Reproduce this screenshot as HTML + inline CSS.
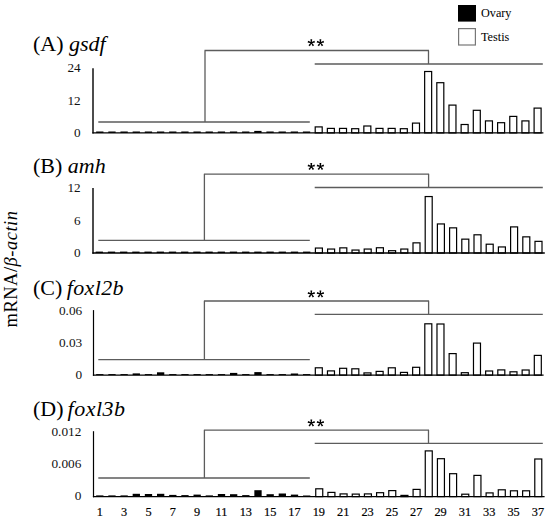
<!DOCTYPE html>
<html><head><meta charset="utf-8"><style>
html,body{margin:0;padding:0;background:#fff;}
body{width:550px;height:522px;overflow:hidden;}
svg{display:block;}
text{font-family:"Liberation Serif",serif;fill:#000;}
.lb{stroke:#000;stroke-width:0.2px;}
.yl{fill:#111;}
</style></head><body>
<svg width="550" height="522" viewBox="0 0 550 522">

<rect x="458" y="5" width="18" height="16.6" fill="#000"/>
<rect x="458.6" y="28.6" width="16.8" height="16.4" fill="#fff" stroke="#777" stroke-width="1.2"/>
<text x="481" y="17.2" font-size="12.2">Ovary</text>
<text x="481" y="41" font-size="12.2">Testis</text>
<text transform="translate(16.6,269) rotate(-90)" text-anchor="middle" font-size="18.5" letter-spacing="0.5">mRNA/<tspan font-style="italic">β-actin</tspan></text>
<text x="33" y="51.2" font-size="22">(A) <tspan font-style="italic" dx="0" letter-spacing="0">gsdf</tspan></text>
<text x="80.6" y="71.8" font-size="13.2" text-anchor="end" class="yl">24</text>
<text x="80.6" y="104.5" font-size="13.2" text-anchor="end" class="yl">12</text>
<text x="80.6" y="136.8" font-size="13.2" text-anchor="end" class="yl">0</text>
<path d="M98.3 122.0H309.8M314.7 64.0H542.8M205.0 122.0V50.5M204.5 50.5H429.0M428.5 50.5V64.0" stroke="#5c5c5c" stroke-width="1.3" fill="none"/>
<path d="M311.75 42.80L312.20 39.20L310.40 39.20L310.85 42.80ZM311.44 43.23L315.00 42.54L314.45 40.83L311.16 42.37ZM310.94 43.06L312.69 46.24L314.14 45.18L311.66 42.54ZM310.94 42.54L308.46 45.18L309.91 46.24L311.66 43.06ZM311.44 42.37L308.15 40.83L307.60 42.54L311.16 43.23Z" fill="#000"/><circle cx="311.3" cy="42.8" r="0.8" fill="#000"/>
<path d="M320.85 42.80L321.30 39.20L319.50 39.20L319.95 42.80ZM320.54 43.23L324.10 42.54L323.55 40.83L320.26 42.37ZM320.04 43.06L321.79 46.24L323.24 45.18L320.76 42.54ZM320.04 42.54L317.56 45.18L319.01 46.24L320.76 43.06ZM320.54 42.37L317.25 40.83L316.70 42.54L320.26 43.23Z" fill="#000"/><circle cx="320.4" cy="42.8" r="0.8" fill="#000"/>
<rect x="96.15" y="131.50" width="7.30" height="1.40" fill="#000"/>
<rect x="108.31" y="131.50" width="7.30" height="1.40" fill="#000"/>
<rect x="120.47" y="131.50" width="7.30" height="1.40" fill="#000"/>
<rect x="132.63" y="131.50" width="7.30" height="1.40" fill="#000"/>
<rect x="144.79" y="131.50" width="7.30" height="1.40" fill="#000"/>
<rect x="156.95" y="131.50" width="7.30" height="1.40" fill="#000"/>
<rect x="169.12" y="131.50" width="7.30" height="1.40" fill="#000"/>
<rect x="181.28" y="131.50" width="7.30" height="1.40" fill="#000"/>
<rect x="193.44" y="131.50" width="7.30" height="1.40" fill="#000"/>
<rect x="205.60" y="131.50" width="7.30" height="1.40" fill="#000"/>
<rect x="217.76" y="131.50" width="7.30" height="1.40" fill="#000"/>
<rect x="229.92" y="131.50" width="7.30" height="1.40" fill="#000"/>
<rect x="242.08" y="131.50" width="7.30" height="1.40" fill="#000"/>
<rect x="254.24" y="130.90" width="7.30" height="2.00" fill="#000"/>
<rect x="266.40" y="131.50" width="7.30" height="1.40" fill="#000"/>
<rect x="278.56" y="131.50" width="7.30" height="1.40" fill="#000"/>
<rect x="290.73" y="131.50" width="7.30" height="1.40" fill="#000"/>
<rect x="302.89" y="131.50" width="7.30" height="1.40" fill="#000"/>
<rect x="315.20" y="126.90" width="7.00" height="6.00" fill="#fff" stroke="#000" stroke-width="1.2"/>
<rect x="327.36" y="128.40" width="7.00" height="4.50" fill="#fff" stroke="#000" stroke-width="1.2"/>
<rect x="339.52" y="128.40" width="7.00" height="4.50" fill="#fff" stroke="#000" stroke-width="1.2"/>
<rect x="351.68" y="128.70" width="7.00" height="4.20" fill="#fff" stroke="#000" stroke-width="1.2"/>
<rect x="363.84" y="126.00" width="7.00" height="6.90" fill="#fff" stroke="#000" stroke-width="1.2"/>
<rect x="376.00" y="128.40" width="7.00" height="4.50" fill="#fff" stroke="#000" stroke-width="1.2"/>
<rect x="388.16" y="128.40" width="7.00" height="4.50" fill="#fff" stroke="#000" stroke-width="1.2"/>
<rect x="400.32" y="128.70" width="7.00" height="4.20" fill="#fff" stroke="#000" stroke-width="1.2"/>
<rect x="412.49" y="123.10" width="7.00" height="9.80" fill="#fff" stroke="#000" stroke-width="1.2"/>
<rect x="424.65" y="71.50" width="7.00" height="61.40" fill="#fff" stroke="#000" stroke-width="1.2"/>
<rect x="436.81" y="82.70" width="7.00" height="50.20" fill="#fff" stroke="#000" stroke-width="1.2"/>
<rect x="448.97" y="105.10" width="7.00" height="27.80" fill="#fff" stroke="#000" stroke-width="1.2"/>
<rect x="461.13" y="124.50" width="7.00" height="8.40" fill="#fff" stroke="#000" stroke-width="1.2"/>
<rect x="473.29" y="110.30" width="7.00" height="22.60" fill="#fff" stroke="#000" stroke-width="1.2"/>
<rect x="485.45" y="120.90" width="7.00" height="12.00" fill="#fff" stroke="#000" stroke-width="1.2"/>
<rect x="497.61" y="122.70" width="7.00" height="10.20" fill="#fff" stroke="#000" stroke-width="1.2"/>
<rect x="509.77" y="116.40" width="7.00" height="16.50" fill="#fff" stroke="#000" stroke-width="1.2"/>
<rect x="521.93" y="120.90" width="7.00" height="12.00" fill="#fff" stroke="#000" stroke-width="1.2"/>
<rect x="534.10" y="108.10" width="7.00" height="24.80" fill="#fff" stroke="#000" stroke-width="1.2"/>
<line x1="93.0" y1="68.2" x2="93.0" y2="133.6" stroke="#111" stroke-width="1.5"/>
<line x1="92.4" y1="132.9" x2="543.4" y2="132.9" stroke="#000" stroke-width="1.4"/>
<text x="33" y="173.0" font-size="22">(B) <tspan font-style="italic" dx="0" letter-spacing="0">amh</tspan></text>
<text x="80.6" y="192.4" font-size="13.2" text-anchor="end" class="yl">12</text>
<text x="80.6" y="224.7" font-size="13.2" text-anchor="end" class="yl">6</text>
<text x="80.6" y="256.7" font-size="13.2" text-anchor="end" class="yl">0</text>
<path d="M98.3 240.3H309.8M314.7 187.5H542.8M204.4 240.3V174.1M203.9 174.1H429.1M428.6 174.1V187.5" stroke="#5c5c5c" stroke-width="1.3" fill="none"/>
<path d="M311.75 166.50L312.20 162.90L310.40 162.90L310.85 166.50ZM311.44 166.93L315.00 166.24L314.45 164.53L311.16 166.07ZM310.94 166.76L312.69 169.94L314.14 168.88L311.66 166.24ZM310.94 166.24L308.46 168.88L309.91 169.94L311.66 166.76ZM311.44 166.07L308.15 164.53L307.60 166.24L311.16 166.93Z" fill="#000"/><circle cx="311.3" cy="166.5" r="0.8" fill="#000"/>
<path d="M320.85 166.50L321.30 162.90L319.50 162.90L319.95 166.50ZM320.54 166.93L324.10 166.24L323.55 164.53L320.26 166.07ZM320.04 166.76L321.79 169.94L323.24 168.88L320.76 166.24ZM320.04 166.24L317.56 168.88L319.01 169.94L320.76 166.76ZM320.54 166.07L317.25 164.53L316.70 166.24L320.26 166.93Z" fill="#000"/><circle cx="320.4" cy="166.5" r="0.8" fill="#000"/>
<rect x="95.65" y="251.60" width="7.30" height="1.40" fill="#000"/>
<rect x="107.85" y="251.60" width="7.30" height="1.40" fill="#000"/>
<rect x="120.05" y="251.60" width="7.30" height="1.40" fill="#000"/>
<rect x="132.25" y="251.60" width="7.30" height="1.40" fill="#000"/>
<rect x="144.45" y="251.60" width="7.30" height="1.40" fill="#000"/>
<rect x="156.65" y="251.60" width="7.30" height="1.40" fill="#000"/>
<rect x="168.85" y="251.60" width="7.30" height="1.40" fill="#000"/>
<rect x="181.05" y="251.60" width="7.30" height="1.40" fill="#000"/>
<rect x="193.25" y="251.60" width="7.30" height="1.40" fill="#000"/>
<rect x="205.45" y="251.60" width="7.30" height="1.40" fill="#000"/>
<rect x="217.65" y="251.60" width="7.30" height="1.40" fill="#000"/>
<rect x="229.85" y="251.60" width="7.30" height="1.40" fill="#000"/>
<rect x="242.05" y="251.60" width="7.30" height="1.40" fill="#000"/>
<rect x="254.25" y="251.60" width="7.30" height="1.40" fill="#000"/>
<rect x="266.45" y="251.60" width="7.30" height="1.40" fill="#000"/>
<rect x="278.65" y="251.60" width="7.30" height="1.40" fill="#000"/>
<rect x="290.85" y="251.60" width="7.30" height="1.40" fill="#000"/>
<rect x="303.05" y="251.60" width="7.30" height="1.40" fill="#000"/>
<rect x="315.40" y="248.05" width="7.00" height="4.95" fill="#fff" stroke="#000" stroke-width="1.2"/>
<rect x="327.60" y="249.05" width="7.00" height="3.95" fill="#fff" stroke="#000" stroke-width="1.2"/>
<rect x="339.80" y="247.85" width="7.00" height="5.15" fill="#fff" stroke="#000" stroke-width="1.2"/>
<rect x="352.00" y="250.05" width="7.00" height="2.95" fill="#fff" stroke="#000" stroke-width="1.2"/>
<rect x="364.20" y="249.05" width="7.00" height="3.95" fill="#fff" stroke="#000" stroke-width="1.2"/>
<rect x="376.40" y="247.75" width="7.00" height="5.25" fill="#fff" stroke="#000" stroke-width="1.2"/>
<rect x="388.60" y="250.70" width="7.00" height="2.30" fill="#fff" stroke="#000" stroke-width="1.2"/>
<rect x="400.80" y="249.05" width="7.00" height="3.95" fill="#fff" stroke="#000" stroke-width="1.2"/>
<rect x="413.00" y="242.85" width="7.00" height="10.15" fill="#fff" stroke="#000" stroke-width="1.2"/>
<rect x="425.20" y="196.55" width="7.00" height="56.45" fill="#fff" stroke="#000" stroke-width="1.2"/>
<rect x="437.40" y="223.95" width="7.00" height="29.05" fill="#fff" stroke="#000" stroke-width="1.2"/>
<rect x="449.60" y="227.85" width="7.00" height="25.15" fill="#fff" stroke="#000" stroke-width="1.2"/>
<rect x="461.80" y="239.15" width="7.00" height="13.85" fill="#fff" stroke="#000" stroke-width="1.2"/>
<rect x="474.00" y="234.80" width="7.00" height="18.20" fill="#fff" stroke="#000" stroke-width="1.2"/>
<rect x="486.20" y="244.20" width="7.00" height="8.80" fill="#fff" stroke="#000" stroke-width="1.2"/>
<rect x="498.40" y="246.95" width="7.00" height="6.05" fill="#fff" stroke="#000" stroke-width="1.2"/>
<rect x="510.60" y="226.90" width="7.00" height="26.10" fill="#fff" stroke="#000" stroke-width="1.2"/>
<rect x="522.80" y="236.85" width="7.00" height="16.15" fill="#fff" stroke="#000" stroke-width="1.2"/>
<rect x="535.00" y="241.35" width="7.00" height="11.65" fill="#fff" stroke="#000" stroke-width="1.2"/>
<line x1="93.0" y1="188.1" x2="93.0" y2="253.7" stroke="#111" stroke-width="1.5"/>
<line x1="92.4" y1="253.0" x2="544.8" y2="253.0" stroke="#000" stroke-width="1.4"/>
<text x="33" y="295.2" font-size="22">(C) <tspan font-style="italic" dx="-1.2" letter-spacing="0.4">foxl2b</tspan></text>
<text x="82.2" y="314.7" font-size="13.3" text-anchor="end" class="yl">0.06</text>
<text x="82.2" y="346.8" font-size="13.3" text-anchor="end" class="yl">0.03</text>
<text x="82.2" y="378.7" font-size="13.3" text-anchor="end" class="yl">0</text>
<path d="M98.3 359.6H309.8M314.7 314.4H542.8M204.4 359.6V301.0M203.9 301.0H429.1M428.6 301.0V314.4" stroke="#5c5c5c" stroke-width="1.3" fill="none"/>
<path d="M311.75 294.00L312.20 290.40L310.40 290.40L310.85 294.00ZM311.44 294.43L315.00 293.74L314.45 292.03L311.16 293.57ZM310.94 294.26L312.69 297.44L314.14 296.38L311.66 293.74ZM310.94 293.74L308.46 296.38L309.91 297.44L311.66 294.26ZM311.44 293.57L308.15 292.03L307.60 293.74L311.16 294.43Z" fill="#000"/><circle cx="311.3" cy="294.0" r="0.8" fill="#000"/>
<path d="M320.85 294.00L321.30 290.40L319.50 290.40L319.95 294.00ZM320.54 294.43L324.10 293.74L323.55 292.03L320.26 293.57ZM320.04 294.26L321.79 297.44L323.24 296.38L320.76 293.74ZM320.04 293.74L317.56 296.38L319.01 297.44L320.76 294.26ZM320.54 293.57L317.25 292.03L316.70 293.74L320.26 294.43Z" fill="#000"/><circle cx="320.4" cy="294.0" r="0.8" fill="#000"/>
<rect x="96.15" y="374.10" width="7.30" height="1.00" fill="#000"/>
<rect x="108.32" y="374.10" width="7.30" height="1.00" fill="#000"/>
<rect x="120.48" y="374.10" width="7.30" height="1.00" fill="#000"/>
<rect x="132.65" y="373.40" width="7.30" height="1.70" fill="#000"/>
<rect x="144.82" y="374.10" width="7.30" height="1.00" fill="#000"/>
<rect x="156.98" y="372.30" width="7.30" height="2.80" fill="#000"/>
<rect x="169.15" y="374.10" width="7.30" height="1.00" fill="#000"/>
<rect x="181.32" y="374.10" width="7.30" height="1.00" fill="#000"/>
<rect x="193.49" y="374.10" width="7.30" height="1.00" fill="#000"/>
<rect x="205.65" y="374.10" width="7.30" height="1.00" fill="#000"/>
<rect x="217.82" y="374.10" width="7.30" height="1.00" fill="#000"/>
<rect x="229.99" y="372.90" width="7.30" height="2.20" fill="#000"/>
<rect x="242.15" y="374.10" width="7.30" height="1.00" fill="#000"/>
<rect x="254.32" y="372.10" width="7.30" height="3.00" fill="#000"/>
<rect x="266.49" y="374.10" width="7.30" height="1.00" fill="#000"/>
<rect x="278.66" y="374.10" width="7.30" height="1.00" fill="#000"/>
<rect x="290.82" y="373.50" width="7.30" height="1.60" fill="#000"/>
<rect x="302.99" y="374.10" width="7.30" height="1.00" fill="#000"/>
<rect x="315.31" y="367.80" width="7.00" height="7.30" fill="#fff" stroke="#000" stroke-width="1.2"/>
<rect x="327.47" y="370.90" width="7.00" height="4.20" fill="#fff" stroke="#000" stroke-width="1.2"/>
<rect x="339.64" y="368.30" width="7.00" height="6.80" fill="#fff" stroke="#000" stroke-width="1.2"/>
<rect x="351.81" y="368.80" width="7.00" height="6.30" fill="#fff" stroke="#000" stroke-width="1.2"/>
<rect x="363.97" y="372.90" width="7.00" height="2.20" fill="#fff" stroke="#000" stroke-width="1.2"/>
<rect x="376.14" y="371.40" width="7.00" height="3.70" fill="#fff" stroke="#000" stroke-width="1.2"/>
<rect x="388.31" y="367.80" width="7.00" height="7.30" fill="#fff" stroke="#000" stroke-width="1.2"/>
<rect x="400.48" y="372.40" width="7.00" height="2.70" fill="#fff" stroke="#000" stroke-width="1.2"/>
<rect x="412.64" y="367.30" width="7.00" height="7.80" fill="#fff" stroke="#000" stroke-width="1.2"/>
<rect x="424.81" y="323.80" width="7.00" height="51.30" fill="#fff" stroke="#000" stroke-width="1.2"/>
<rect x="436.98" y="324.00" width="7.00" height="51.10" fill="#fff" stroke="#000" stroke-width="1.2"/>
<rect x="449.14" y="353.60" width="7.00" height="21.50" fill="#fff" stroke="#000" stroke-width="1.2"/>
<rect x="461.31" y="372.70" width="7.00" height="2.40" fill="#fff" stroke="#000" stroke-width="1.2"/>
<rect x="473.48" y="343.10" width="7.00" height="32.00" fill="#fff" stroke="#000" stroke-width="1.2"/>
<rect x="485.64" y="371.00" width="7.00" height="4.10" fill="#fff" stroke="#000" stroke-width="1.2"/>
<rect x="497.81" y="369.90" width="7.00" height="5.20" fill="#fff" stroke="#000" stroke-width="1.2"/>
<rect x="509.98" y="371.80" width="7.00" height="3.30" fill="#fff" stroke="#000" stroke-width="1.2"/>
<rect x="522.14" y="370.00" width="7.00" height="5.10" fill="#fff" stroke="#000" stroke-width="1.2"/>
<rect x="534.31" y="355.40" width="7.00" height="19.70" fill="#fff" stroke="#000" stroke-width="1.2"/>
<line x1="93.5" y1="310.1" x2="93.5" y2="375.8" stroke="#000" stroke-width="1.2"/>
<line x1="92.9" y1="375.1" x2="543.6" y2="375.1" stroke="#000" stroke-width="1.4"/>
<text x="33" y="416.0" font-size="22">(D) <tspan font-style="italic" dx="-1.5" letter-spacing="0.5">foxl3b</tspan></text>
<text x="81.4" y="435.9" font-size="13.3" text-anchor="end" class="yl">0.012</text>
<text x="81.4" y="468.4" font-size="13.3" text-anchor="end" class="yl">0.006</text>
<text x="81.4" y="500.2" font-size="13.3" text-anchor="end" class="yl">0</text>
<path d="M98.3 478.0H309.8M314.7 443.4H542.8M204.4 478.0V430.1M203.9 430.1H429.0M428.5 430.1V443.4" stroke="#5c5c5c" stroke-width="1.3" fill="none"/>
<path d="M311.75 423.00L312.20 419.40L310.40 419.40L310.85 423.00ZM311.44 423.43L315.00 422.74L314.45 421.03L311.16 422.57ZM310.94 423.26L312.69 426.44L314.14 425.38L311.66 422.74ZM310.94 422.74L308.46 425.38L309.91 426.44L311.66 423.26ZM311.44 422.57L308.15 421.03L307.60 422.74L311.16 423.43Z" fill="#000"/><circle cx="311.3" cy="423.0" r="0.8" fill="#000"/>
<path d="M320.85 423.00L321.30 419.40L319.50 419.40L319.95 423.00ZM320.54 423.43L324.10 422.74L323.55 421.03L320.26 422.57ZM320.04 423.26L321.79 426.44L323.24 425.38L320.76 422.74ZM320.04 422.74L317.56 425.38L319.01 426.44L320.76 423.26ZM320.54 422.57L317.25 421.03L316.70 422.74L320.26 423.43Z" fill="#000"/><circle cx="320.4" cy="423.0" r="0.8" fill="#000"/>
<rect x="96.15" y="495.40" width="7.30" height="1.20" fill="#000"/>
<rect x="108.32" y="495.40" width="7.30" height="1.20" fill="#000"/>
<rect x="120.49" y="495.40" width="7.30" height="1.20" fill="#000"/>
<rect x="132.66" y="493.80" width="7.30" height="2.80" fill="#000"/>
<rect x="144.83" y="494.00" width="7.30" height="2.60" fill="#000"/>
<rect x="157.00" y="493.80" width="7.30" height="2.80" fill="#000"/>
<rect x="169.16" y="494.90" width="7.30" height="1.70" fill="#000"/>
<rect x="181.33" y="495.10" width="7.30" height="1.50" fill="#000"/>
<rect x="193.50" y="494.60" width="7.30" height="2.00" fill="#000"/>
<rect x="205.67" y="495.40" width="7.30" height="1.20" fill="#000"/>
<rect x="217.84" y="494.00" width="7.30" height="2.60" fill="#000"/>
<rect x="230.01" y="494.20" width="7.30" height="2.40" fill="#000"/>
<rect x="242.18" y="495.10" width="7.30" height="1.50" fill="#000"/>
<rect x="254.35" y="490.20" width="7.30" height="6.40" fill="#000"/>
<rect x="266.52" y="494.20" width="7.30" height="2.40" fill="#000"/>
<rect x="278.69" y="493.50" width="7.30" height="3.10" fill="#000"/>
<rect x="290.85" y="494.60" width="7.30" height="2.00" fill="#000"/>
<rect x="303.02" y="495.50" width="7.30" height="1.10" fill="#000"/>
<rect x="315.74" y="488.80" width="7.00" height="7.80" fill="#fff" stroke="#000" stroke-width="1.2"/>
<rect x="327.91" y="492.40" width="7.00" height="4.20" fill="#fff" stroke="#000" stroke-width="1.2"/>
<rect x="340.08" y="493.90" width="7.00" height="2.70" fill="#fff" stroke="#000" stroke-width="1.2"/>
<rect x="352.25" y="494.10" width="7.00" height="2.50" fill="#fff" stroke="#000" stroke-width="1.2"/>
<rect x="364.42" y="493.90" width="7.00" height="2.70" fill="#fff" stroke="#000" stroke-width="1.2"/>
<rect x="376.59" y="492.70" width="7.00" height="3.90" fill="#fff" stroke="#000" stroke-width="1.2"/>
<rect x="388.76" y="490.60" width="7.00" height="6.00" fill="#fff" stroke="#000" stroke-width="1.2"/>
<rect x="400.93" y="495.40" width="7.00" height="1.20" fill="#fff" stroke="#000" stroke-width="1.2"/>
<rect x="413.09" y="489.40" width="7.00" height="7.20" fill="#fff" stroke="#000" stroke-width="1.2"/>
<rect x="425.26" y="450.90" width="7.00" height="45.70" fill="#fff" stroke="#000" stroke-width="1.2"/>
<rect x="437.43" y="458.70" width="7.00" height="37.90" fill="#fff" stroke="#000" stroke-width="1.2"/>
<rect x="449.60" y="473.70" width="7.00" height="22.90" fill="#fff" stroke="#000" stroke-width="1.2"/>
<rect x="461.77" y="494.20" width="7.00" height="2.40" fill="#fff" stroke="#000" stroke-width="1.2"/>
<rect x="473.94" y="475.40" width="7.00" height="21.20" fill="#fff" stroke="#000" stroke-width="1.2"/>
<rect x="486.11" y="492.90" width="7.00" height="3.70" fill="#fff" stroke="#000" stroke-width="1.2"/>
<rect x="498.28" y="489.80" width="7.00" height="6.80" fill="#fff" stroke="#000" stroke-width="1.2"/>
<rect x="510.45" y="490.80" width="7.00" height="5.80" fill="#fff" stroke="#000" stroke-width="1.2"/>
<rect x="522.62" y="490.80" width="7.00" height="5.80" fill="#fff" stroke="#000" stroke-width="1.2"/>
<rect x="534.78" y="459.00" width="7.00" height="37.60" fill="#fff" stroke="#000" stroke-width="1.2"/>
<line x1="93.5" y1="431.2" x2="93.5" y2="497.3" stroke="#000" stroke-width="1.2"/>
<line x1="92.9" y1="496.6" x2="544.6" y2="496.6" stroke="#000" stroke-width="1.4"/>
<text transform="translate(99.80,516) scale(0.92,1)" font-size="13.4" text-anchor="middle" class="lb">1</text>
<text transform="translate(124.14,516) scale(0.92,1)" font-size="13.4" text-anchor="middle" class="lb">3</text>
<text transform="translate(148.48,516) scale(0.92,1)" font-size="13.4" text-anchor="middle" class="lb">5</text>
<text transform="translate(172.82,516) scale(0.92,1)" font-size="13.4" text-anchor="middle" class="lb">7</text>
<text transform="translate(197.16,516) scale(0.92,1)" font-size="13.4" text-anchor="middle" class="lb">9</text>
<text transform="translate(221.50,516) scale(0.92,1)" font-size="13.4" text-anchor="middle" class="lb">11</text>
<text transform="translate(245.84,516) scale(0.92,1)" font-size="13.4" text-anchor="middle" class="lb">13</text>
<text transform="translate(270.18,516) scale(0.92,1)" font-size="13.4" text-anchor="middle" class="lb">15</text>
<text transform="translate(294.52,516) scale(0.92,1)" font-size="13.4" text-anchor="middle" class="lb">17</text>
<text transform="translate(318.86,516) scale(0.92,1)" font-size="13.4" text-anchor="middle" class="lb">19</text>
<text transform="translate(343.20,516) scale(0.92,1)" font-size="13.4" text-anchor="middle" class="lb">21</text>
<text transform="translate(367.54,516) scale(0.92,1)" font-size="13.4" text-anchor="middle" class="lb">23</text>
<text transform="translate(391.88,516) scale(0.92,1)" font-size="13.4" text-anchor="middle" class="lb">25</text>
<text transform="translate(416.22,516) scale(0.92,1)" font-size="13.4" text-anchor="middle" class="lb">27</text>
<text transform="translate(440.56,516) scale(0.92,1)" font-size="13.4" text-anchor="middle" class="lb">29</text>
<text transform="translate(464.90,516) scale(0.92,1)" font-size="13.4" text-anchor="middle" class="lb">31</text>
<text transform="translate(489.24,516) scale(0.92,1)" font-size="13.4" text-anchor="middle" class="lb">33</text>
<text transform="translate(513.58,516) scale(0.92,1)" font-size="13.4" text-anchor="middle" class="lb">35</text>
<text transform="translate(537.92,516) scale(0.92,1)" font-size="13.4" text-anchor="middle" class="lb">37</text>
</svg>
</body></html>
